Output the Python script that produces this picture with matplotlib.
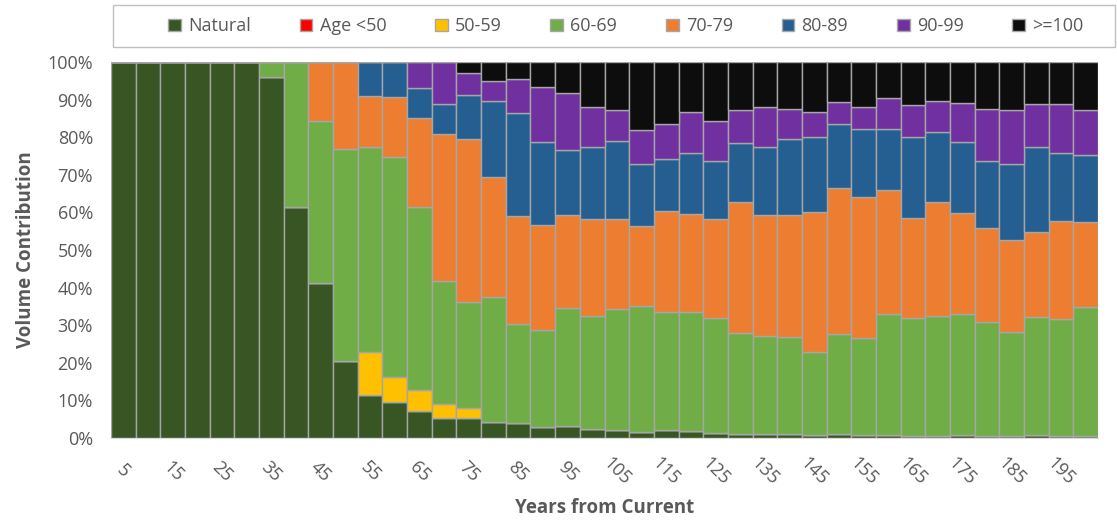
import numpy as np
import matplotlib.pyplot as plt
from matplotlib.patches import Rectangle

years = list(range(5, 205, 5))

natural = [100, 100, 100, 100, 100, 100, 95.9, 61.5, 41.3, 20.6,
           11.4, 9.5, 7.3, 5.4, 5.4, 4.3, 3.9, 3.0, 3.3, 2.4,
           2.1, 1.5, 2.1, 1.9, 1.4, 1.1, 1.1, 1.1, 0.8, 1.1,
           0.8, 0.8, 0.5, 0.5, 0.9, 0.5, 0.5, 0.9, 0.5, 0.5]
age_lt50 = [0] * 40
age_50_59 = [0, 0, 0, 0, 0, 0, 0, 0, 0, 0,
             11.4, 6.7, 5.5, 3.6, 2.7, 0, 0, 0, 0, 0,
             0, 0, 0, 0, 0, 0, 0, 0, 0, 0,
             0, 0, 0, 0, 0, 0, 0, 0, 0, 0]
age_60_69 = [0, 0, 0, 0, 0, 0, 4.1, 38.5, 42.9, 56.3,
             54.7, 58.4, 48.7, 32.8, 28.0, 33.3, 26.4, 25.7, 31.2, 30.1,
             32.3, 33.6, 31.3, 31.5, 30.6, 26.7, 26.1, 25.8, 22.0, 26.5,
             25.8, 32.1, 31.4, 32.0, 32.0, 30.4, 27.6, 31.4, 31.1, 34.3]
age_70_79 = [0, 0, 0, 0, 0, 0, 0, 0, 15.8, 23.1,
             13.5, 16.1, 23.5, 39.1, 43.3, 31.7, 28.7, 28.0, 24.8, 25.7,
             23.8, 21.3, 27.1, 26.2, 26.3, 34.9, 32.0, 32.3, 37.4, 38.9,
             37.4, 33.0, 26.7, 30.2, 26.9, 25.0, 24.6, 22.6, 26.1, 22.6]
age_80_89 = [0, 0, 0, 0, 0, 0, 0, 0, 0, 0,
             9.0, 9.3, 8.2, 7.9, 11.9, 20.4, 27.3, 22.0, 17.3, 19.3,
             20.8, 16.6, 13.8, 16.2, 15.3, 15.7, 18.3, 20.2, 19.8, 17.0,
             18.2, 16.4, 21.4, 18.6, 19.0, 17.8, 20.1, 22.6, 18.2, 17.9]
age_90_99 = [0, 0, 0, 0, 0, 0, 0, 0, 0, 0,
             0, 0, 6.8, 11.2, 5.7, 5.3, 9.1, 14.6, 15.1, 10.6,
             8.2, 8.9, 9.2, 10.8, 10.8, 8.8, 10.6, 8.1, 6.6, 5.9,
             5.9, 8.0, 8.5, 8.4, 10.3, 13.8, 14.4, 11.3, 12.9, 11.9]
age_ge100 = [0, 0, 0, 0, 0, 0, 0, 0, 0, 0,
             0, 0, 0, 0, 3.0, 5.0, 4.6, 6.7, 8.3, 11.9,
             12.8, 18.1, 16.5, 13.4, 15.6, 12.8, 11.9, 12.5, 13.4, 10.6,
             11.9, 9.7, 11.5, 10.3, 10.9, 12.5, 12.8, 11.2, 11.2, 12.8]

series = [natural, age_lt50, age_50_59, age_60_69, age_70_79,
          age_80_89, age_90_99, age_ge100]
labels = ['Natural', 'Age <50', '50-59', '60-69', '70-79', '80-89',
          '90-99', '>=100']
colors = ['#375623', '#FF0000', '#FFC000', '#70AD47', '#ED7D31',
          '#255E91', '#7030A0', '#0D0D0D']

plt.rcParams['font.family'] = ['Open Sans', 'DejaVu Sans']

fig = plt.figure(figsize=(11.17, 5.23), dpi=100)
ax = fig.add_axes([0.0994, 0.1625, 0.8836, 0.719])

x = np.arange(len(years))
bottom = np.zeros(len(years))
for vals, lab, col in zip(series, labels, colors):
    vals = np.array(vals, dtype=float)
    ax.bar(x, vals, bottom=bottom, width=1.0, color=col,
           edgecolor='#A6A6A6', linewidth=1.0, label=lab)
    bottom += vals

ax.set_xlim(-0.5, len(years) - 0.5)
ax.set_ylim(0, 100)
ax.set_yticks(np.arange(0, 101, 10))
ax.set_yticklabels([f'{v}%' for v in range(0, 101, 10)])
ax.set_xticks(x[::2])
ax.set_xticklabels([str(y) for y in years[::2]], rotation=-45,
                   ha='center', va='center', rotation_mode='anchor')
ax.tick_params(axis='both', length=0, labelsize=13, colors='#595959')
ax.tick_params(axis='x', pad=24)
ax.tick_params(axis='y', pad=13)
for s in ['top', 'right', 'left']:
    ax.spines[s].set_visible(False)
ax.spines['bottom'].set_color('#D9D9D9')

ax.set_xlabel('Years from Current', fontsize=13.5, fontweight='bold',
              color='#595959', labelpad=7)
ax.set_ylabel('Volume Contribution', fontsize=13.5, fontweight='bold',
              color='#595959', labelpad=8)

# legend frame drawn separately so the entries can sit inside with padding
fig.patches.append(Rectangle((113 / 1117, 1 - 47 / 523), 1002 / 1117, 42 / 523,
                             transform=fig.transFigure, fill=False,
                             edgecolor='#BFBFBF', linewidth=1.0))
leg = fig.legend(loc='center', bbox_to_anchor=(0.5604, 0.950), ncol=8,
                 frameon=False, fontsize=13, handlelength=0.7,
                 handleheight=0.7, handletextpad=0.4, columnspacing=2.7,
                 borderaxespad=0)
for t in leg.get_texts():
    t.set_color('#595959')

fig.savefig('out.png', dpi=100)
